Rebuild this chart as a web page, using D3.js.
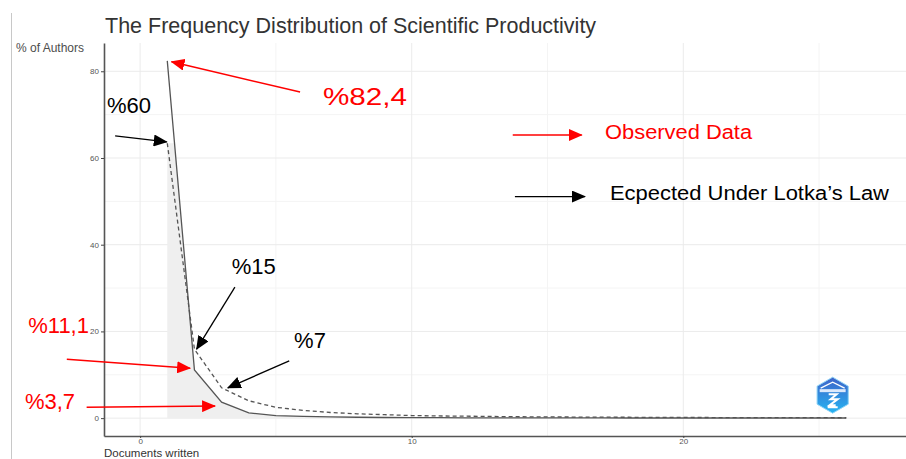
<!DOCTYPE html>
<html>
<head>
<meta charset="utf-8">
<script src="https://cdn.jsdelivr.net/npm/d3@7"></script>
<style>
  body { margin: 0; background: #fff; }
  svg { display: block; font-family: 'Liberation Sans', Arial, sans-serif; }
</style>
</head>
<body>
<svg id="canvas"></svg>
<script>
// documents written per author (1..26)
let documents = [1, 2, 3, 4, 5, 6, 7, 8, 9, 10, 11, 12, 13, 14, 15, 16, 17, 18, 19, 20, 21, 22, 23, 24, 25, 26]
// % of authors
let observed = [82.4, 11.1, 3.7, 1.2, 0.6, 0.4, 0.3, 0.2, 0.15, 0.1, 0.1, 0.08, 0.06, 0.05, 0.05, 0.04, 0.04, 0.03, 0.03, 0.03, 0.03, 0.03, 0.03, 0.03, 0.03, 0.03]
let expected = [63.4, 15.9, 7.0, 4.0, 2.5, 1.8, 1.3, 1.0, 0.8, 0.6, 0.5, 0.45, 0.38, 0.32, 0.28, 0.25, 0.22, 0.2, 0.18, 0.16, 0.14, 0.13, 0.12, 0.11, 0.1, 0.09]

let xTicks = [0, 10, 20]
let xMinor = [5, 15, 25]
let yTicks = [0, 20, 40, 60, 80]
let yMinor = [10, 30, 50, 70]

let title = 'The Frequency Distribution of Scientific Productivity'
let yTitle = '% of Authors'
let xTitle = 'Documents written'

let width = 906
let height = 459

let canvas = d3.select('#canvas')
canvas.attr('width', width)
canvas.attr('height', height)

let xScale = d3.scaleLinear()
                .domain([-1.33, 28.2])
                .range([104, 906])

let yScale = d3.scaleLinear()
                .domain([-4.12, 86.52]) // ggplot style 5% padding around 0..82.4
                .range([436, 43])

// annotations live in data space so they follow the scales
let labels = [
    {text: '%82,4', x: 6.73, y: 72.2, color: '#ff0000', size: 24, len: 84},
    {text: '%60', x: -1.22, y: 70.3, color: '#000', size: 22},
    {text: 'Observed Data', x: 17.12, y: 64.4, color: '#ff0000', size: 20, len: 147},
    {text: 'Ecpected Under Lotka\u2019s Law', x: 17.3, y: 50.3, color: '#000', size: 20, len: 279},
    {text: '%15', x: 3.37, y: 33.2, color: '#000', size: 22},
    {text: '%7', x: 5.67, y: 16.1, color: '#000', size: 22},
    {text: '%11,1', x: -4.12, y: 19.6, color: '#ff0000', size: 22},
    {text: '%3,7', x: -4.24, y: 2.1, color: '#ff0000', size: 22}
]

let arrows = [
    {x1: 5.89, y1: 75.2, x2: 1.156, y2: 82.2, color: 'red'},
    {x1: -0.92, y1: 65.1, x2: 0.98, y2: 63.7, color: 'black'},
    {x1: 13.72, y1: 65.3, x2: 16.26, y2: 65.3, color: 'red'},
    {x1: 13.8, y1: 51.1, x2: 16.38, y2: 51.1, color: 'black'},
    {x1: 3.49, y1: 30.2, x2: 2.08, y2: 15.9, color: 'black'},
    {x1: 5.49, y1: 13.2, x2: 3.23, y2: 7.0, color: 'black'},
    {x1: -2.7, y1: 13.6, x2: 1.84, y2: 11.5, color: 'red'},
    {x1: -1.97, y1: 2.5, x2: 2.76, y2: 2.8, color: 'red'}
]

let arrowColors = {red: '#ff0000', black: '#000'}

let defs = canvas.append('defs')

Object.keys(arrowColors).forEach((k) => {
    defs.append('marker')
        .attr('id', 'head-' + k)
        .attr('viewBox', '0 0 14 12')
        .attr('markerUnits', 'userSpaceOnUse')
        .attr('markerWidth', 14)
        .attr('markerHeight', 12)
        .attr('refX', 13)
        .attr('refY', 6)
        .attr('orient', 'auto')
        .append('path')
        .attr('d', 'M0,0 L14,6 L0,12 Z')
        .attr('fill', arrowColors[k])
})

// gray band is capped at the first expected value
defs.append('clipPath')
    .attr('id', 'band-clip')
    .append('rect')
    .attr('x', xScale.range()[0])
    .attr('y', yScale(expected[0]))
    .attr('width', width)
    .attr('height', yScale(0) - yScale(expected[0]))

let logoGrad = defs.append('linearGradient')
    .attr('id', 'logo-grad')
    .attr('x1', 0).attr('y1', 0).attr('x2', 0).attr('y2', 1)
logoGrad.append('stop').attr('offset', '0%').attr('stop-color', '#3f63c9')
logoGrad.append('stop').attr('offset', '100%').attr('stop-color', '#25b4f2')

let drawFrame = () => {
    // thin line of the original screenshot on the left
    canvas.append('line')
            .attr('x1', 11.5).attr('x2', 11.5)
            .attr('y1', 13).attr('y2', height)
            .attr('stroke', '#c8c8c8')
            .attr('stroke-width', 1)
}

let drawGrid = () => {
    let [x0, x1] = xScale.range()
    let [y0, y1] = yScale.range()

    let grid = canvas.append('g').attr('class', 'grid')

    grid.selectAll('.vminor')
        .data(xMinor)
        .enter()
        .append('line')
        .attr('x1', (d) => xScale(d)).attr('x2', (d) => xScale(d))
        .attr('y1', y0).attr('y2', y1)
        .attr('stroke', '#f4f4f4')

    grid.selectAll('.hminor')
        .data(yMinor)
        .enter()
        .append('line')
        .attr('x1', x0).attr('x2', x1)
        .attr('y1', (d) => yScale(d)).attr('y2', (d) => yScale(d))
        .attr('stroke', '#f4f4f4')

    grid.selectAll('.vmajor')
        .data(xTicks)
        .enter()
        .append('line')
        .attr('x1', (d) => xScale(d)).attr('x2', (d) => xScale(d))
        .attr('y1', y0).attr('y2', y1)
        .attr('stroke', '#ebebeb')

    grid.selectAll('.hmajor')
        .data(yTicks)
        .enter()
        .append('line')
        .attr('x1', x0).attr('x2', x1)
        .attr('y1', (d) => yScale(d)).attr('y2', (d) => yScale(d))
        .attr('stroke', '#ebebeb')
}

let drawLines = () => {
    let rows = documents.map((d, i) => ({n: d, obs: observed[i], exp: expected[i]}))

    let band = d3.area()
                .x((d) => xScale(d.n))
                .y0(yScale(0))
                .y1((d) => yScale(d.obs))

    canvas.append('path')
            .datum(rows)
            .attr('d', band)
            .attr('fill', '#efefef')
            .attr('clip-path', 'url(#band-clip)')

    let expLine = d3.line()
                    .x((d) => xScale(d.n))
                    .y((d) => yScale(d.exp))

    canvas.append('path')
            .datum(rows)
            .attr('d', expLine)
            .attr('fill', 'none')
            .attr('stroke', '#555')
            .attr('stroke-width', 1.3)
            .attr('stroke-dasharray', '4,3')

    let obsLine = d3.line()
                    .x((d) => xScale(d.n))
                    .y((d) => yScale(d.obs))

    canvas.append('path')
            .datum(rows)
            .attr('d', obsLine)
            .attr('fill', 'none')
            .attr('stroke', '#555')
            .attr('stroke-width', 1.3)
}

let drawAxes = () => {
    let xAxis = d3.axisBottom(xScale)
                    .tickValues(xTicks)
                    .tickSize(2)
                    .tickSizeOuter(0)
                    .tickPadding(0)

    let gx = canvas.append('g')
            .attr('id', 'x-axis')
            .attr('transform', `translate(0, ${yScale.range()[0]})`)
            .call(xAxis)

    let yAxis = d3.axisLeft(yScale)
                    .tickValues(yTicks)
                    .tickSize(3)
                    .tickSizeOuter(0)
                    .tickPadding(2)

    let gy = canvas.append('g')
            .attr('id', 'y-axis')
            .attr('transform', `translate(${xScale.range()[0]}, 0)`)
            .call(yAxis)

    ;[gx, gy].forEach((g) => {
        g.select('.domain').attr('stroke', '#555').attr('stroke-width', 1.6)
        g.selectAll('.tick line').attr('stroke', '#444')
        g.selectAll('.tick text')
            .attr('fill', '#555')
            .style('font-size', '8px')
            .style('font-family', "'Liberation Sans', Arial, sans-serif")
    })

    canvas.append('text')
            .attr('x', 16)
            .attr('y', 52)
            .attr('fill', '#4d4d4d')
            .style('font-size', '12px')
            .text(yTitle)

    // kept just inside the bottom edge
    canvas.append('text')
            .attr('x', 104)
            .attr('y', 456.5)
            .attr('fill', '#333')
            .style('font-size', '11.5px')
            .text(xTitle)

    canvas.append('text')
            .attr('x', 105)
            .attr('y', 33)
            .attr('fill', '#333')
            .style('font-size', '21.5px')
            .text(title)
}

let drawNotes = () => {
    canvas.selectAll('.arrow')
            .data(arrows)
            .enter()
            .append('line')
            .attr('class', 'arrow')
            .attr('x1', (d) => xScale(d.x1))
            .attr('y1', (d) => yScale(d.y1))
            .attr('x2', (d) => xScale(d.x2))
            .attr('y2', (d) => yScale(d.y2))
            .attr('stroke', (d) => arrowColors[d.color])
            .attr('stroke-width', (d) => d.color == 'red' ? 1.5 : 1.3)
            .attr('marker-end', (d) => `url(#head-${d.color})`)

    canvas.selectAll('.note')
            .data(labels)
            .enter()
            .append('text')
            .attr('class', 'note')
            .attr('x', (d) => xScale(d.x))
            .attr('y', (d) => yScale(d.y))
            .attr('fill', (d) => d.color)
            .style('font-size', (d) => d.size + 'px')
            .each(function (d) {
                if (d.len) d3.select(this).attr('textLength', d.len).attr('lengthAdjust', 'spacingAndGlyphs')
            })
            .text((d) => d.text)
}

let drawLogo = () => {
    // little hexagon badge bottom right
    let cx = xScale(25.5)
    let cy = yScale(5.3)
    let r = 18
    let pts = d3.range(6).map((i) => {
        let a = Math.PI / 3 * i - Math.PI / 2
        return [cx + r * Math.cos(a), cy + r * Math.sin(a)]
    })
    let g = canvas.append('g')
    g.append('polygon')
        .attr('points', pts.map((p) => p.join(',')).join(' '))
        .attr('fill', 'url(#logo-grad)')
        .attr('stroke', '#8fd4f7')
        .attr('stroke-width', 1)
    g.append('path')
        .attr('d', `M${cx - 12},${cy - 7} L${cx},${cy - 13} L${cx + 12},${cy - 7}`)
        .attr('fill', 'none')
        .attr('stroke', '#fff')
        .attr('stroke-width', 1.2)
    g.append('rect')
        .attr('x', cx - 13).attr('y', cy - 6)
        .attr('width', 26).attr('height', 3)
        .attr('fill', '#dbe8fb')
    g.append('path')
        .attr('d', `M${cx - 4},${cy - 1} h8 l-6,5 h7 l-8,6 h6 M${cx - 5},${cy + 12} h10`)
        .attr('fill', 'none')
        .attr('stroke', '#fff')
        .attr('stroke-width', 2)
}

drawFrame()
drawGrid()
drawLines()
drawAxes()
drawNotes()
drawLogo()
</script>
</body>
</html>
